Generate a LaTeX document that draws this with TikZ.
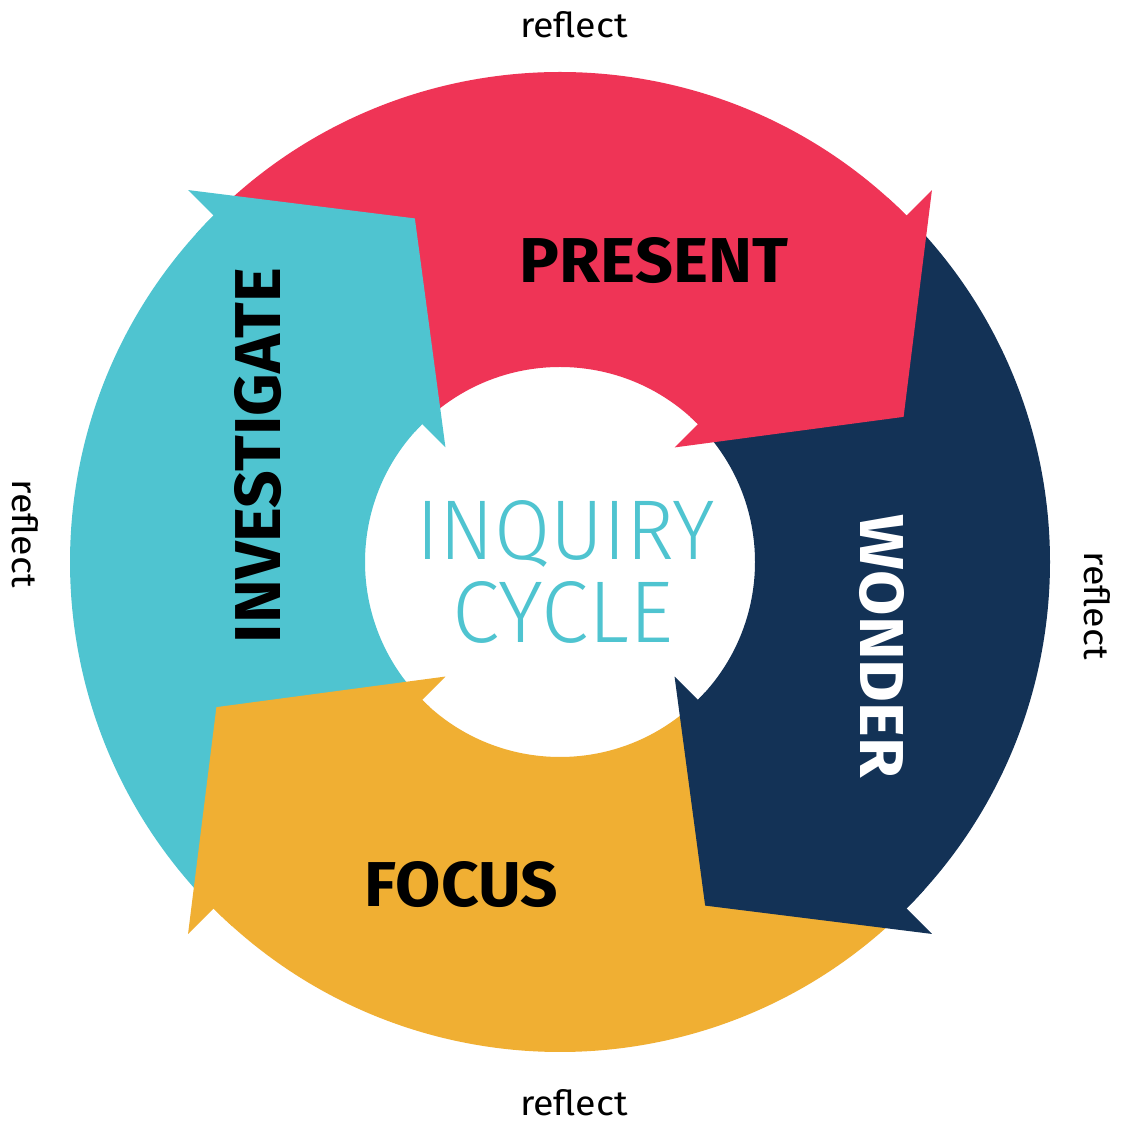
\documentclass[tikz,border=0pt]{standalone}
\usepackage{fontspec}
\usepackage{graphicx}
\setmainfont{Fira Sans}
\newfontfamily\lightfont{Fira Sans Light}
\definecolor{cred}{HTML}{EF3456}
\definecolor{cnavy}{HTML}{133256}
\definecolor{cyellow}{HTML}{F0AF33}
\definecolor{ccyan}{HTML}{4FC4D0}
\tikzset{
  segbody/.pic={
    \fill[pic actions] (135:490) arc[start angle=135,end angle=45,radius=490]
      -- (45:195) arc[start angle=45,end angle=135,radius=195] -- cycle;
  },
  seghead/.pic={
    \fill[pic actions] (45:526) -- (22.9:373) -- (45:162) -- (45:195)
      arc[start angle=45,end angle=48,radius=195] -- (48:490)
      arc[start angle=48,end angle=45,radius=490] -- cycle;
  },
  lab/.style={inner sep=0pt, outer sep=0pt, anchor=base},
  refl/.style={inner sep=0pt, outer sep=0pt, text=black},
}
\begin{document}
\begin{tikzpicture}[x=1pt,y=1pt]
\useasboundingbox (0,0) rectangle (1120,1122);
\fill[white] (0,0) rectangle (1120,1122);
\begin{scope}[shift={(560,560)}]
  \pic[fill=cred] {segbody};
  \pic[fill=cnavy, rotate=-90] {segbody};
  \pic[fill=cyellow, rotate=-180] {segbody};
  \pic[fill=ccyan, rotate=-270] {segbody};
  \pic[fill=cred] {seghead};
  \pic[fill=cnavy, rotate=-90] {seghead};
  \pic[fill=cyellow, rotate=-180] {seghead};
  \pic[fill=ccyan, rotate=-270] {seghead};
\end{scope}
% labels
\node[lab] (present) at (654,839) {\resizebox{268pt}{45pt}{\bfseries PRESENT}};
\node[lab, text=white, rotate=-90] (wonder) at (860,475.5) {\resizebox{263pt}{44pt}{\bfseries WONDER}};
\node[lab] (focus) at (461.5,215) {\resizebox{193pt}{45pt}{\bfseries FOCUS}};
\node[lab, rotate=90] (investigate) at (280,666.5) {\resizebox{375pt}{46pt}{\bfseries INVESTIGATE}};
\node[lab, text=ccyan] (inquiry) at (566,562) {\resizebox{298pt}{59pt}{\lightfont INQUIRY}};
\node[lab, text=ccyan] (cycle) at (563,479) {\resizebox{220pt}{61pt}{\lightfont CYCLE}};
% reflect
\node[refl, anchor=base] (rtop) at (574,1084) {\resizebox{108pt}{26pt}{reflect}};
\node[refl, anchor=base] (rbottom) at (574,6) {\resizebox{108pt}{26pt}{reflect}};
\node[refl, rotate=-90] (rleft) at (25,588) {\resizebox{108pt}{26pt}{reflect}};
\node[refl, rotate=-90] (rright) at (1097,516) {\resizebox{108pt}{26pt}{reflect}};
\end{tikzpicture}
\end{document}
